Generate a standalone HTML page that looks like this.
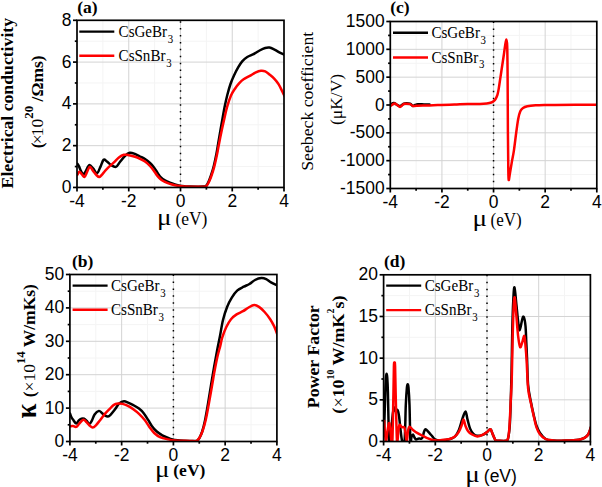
<!DOCTYPE html>
<html><head><meta charset="utf-8"><style>
html,body{margin:0;padding:0;background:#fff;width:602px;height:487px;overflow:hidden;}
</style></head><body>
<svg width="602" height="487" viewBox="0 0 602 487" style="position:absolute;left:0;top:0">
<rect width="602" height="487" fill="#fff"/>
<g stroke="#f4f4f4" stroke-width="1"><line x1="102.88" y1="20.3" x2="102.88" y2="187.45"/><line x1="154.62" y1="20.3" x2="154.62" y2="187.45"/><line x1="206.38" y1="20.3" x2="206.38" y2="187.45"/><line x1="258.12" y1="20.3" x2="258.12" y2="187.45"/><line x1="77.0" y1="166.56" x2="284.0" y2="166.56"/><line x1="77.0" y1="124.77" x2="284.0" y2="124.77"/><line x1="77.0" y1="82.98" x2="284.0" y2="82.98"/><line x1="77.0" y1="41.19" x2="284.0" y2="41.19"/></g>
<g stroke="#d3d3d3" stroke-width="1"><line x1="128.75" y1="20.3" x2="128.75" y2="187.45"/><line x1="180.50" y1="20.3" x2="180.50" y2="187.45"/><line x1="232.25" y1="20.3" x2="232.25" y2="187.45"/><line x1="77.0" y1="145.66" x2="284.0" y2="145.66"/><line x1="77.0" y1="103.88" x2="284.0" y2="103.88"/><line x1="77.0" y1="62.09" x2="284.0" y2="62.09"/></g>
<line x1="180.50" y1="21.150000000000002" x2="180.50" y2="187.45" stroke="#000" stroke-width="1.5" stroke-dasharray="1.5 5.42"/>
<defs><clipPath id="clipa"><rect x="77.0" y="18.3" width="207.0" height="169.14999999999998"/></clipPath></defs>
<g clip-path="url(#clipa)">
<path d="M77.50,163.80 C77.75,164.23 78.37,165.08 79.00,166.40 C79.63,167.72 80.53,170.38 81.30,171.70 C82.07,173.02 82.85,174.42 83.60,174.30 C84.35,174.18 85.10,172.22 85.80,171.00 C86.50,169.78 87.13,167.98 87.80,167.00 C88.47,166.02 88.92,164.87 89.80,165.10 C90.68,165.33 91.90,167.03 93.10,168.40 C94.30,169.77 95.80,173.52 97.00,173.30 C98.20,173.08 99.20,169.35 100.30,167.10 C101.40,164.85 102.50,160.73 103.60,159.80 C104.70,158.87 105.68,160.63 106.90,161.50 C108.12,162.37 109.40,164.10 110.90,165.00 C112.40,165.90 114.40,167.40 115.90,166.90 C117.40,166.40 118.40,163.82 119.90,162.00 C121.40,160.18 123.25,157.53 124.90,156.00 C126.55,154.47 128.12,153.13 129.80,152.80 C131.48,152.47 133.30,153.38 135.00,154.00 C136.70,154.62 138.33,155.67 140.00,156.50 C141.67,157.33 143.33,157.92 145.00,159.00 C146.67,160.08 148.50,161.60 150.00,163.00 C151.50,164.40 152.68,165.67 154.00,167.40 C155.32,169.13 156.75,171.73 157.90,173.40 C159.05,175.07 159.73,176.23 160.90,177.40 C162.07,178.57 163.40,179.52 164.90,180.40 C166.40,181.28 168.23,182.03 169.90,182.70 C171.57,183.37 173.23,183.90 174.90,184.40 C176.57,184.90 178.25,185.38 179.90,185.70 C181.55,186.02 183.12,186.15 184.80,186.30 C186.48,186.45 186.88,186.55 190.00,186.60 C193.12,186.65 200.83,186.70 203.50,186.60 C206.17,186.50 205.22,186.68 206.00,186.00 C206.78,185.32 207.40,184.17 208.20,182.50 C209.00,180.83 209.87,178.75 210.80,176.00 C211.73,173.25 212.85,169.75 213.80,166.00 C214.75,162.25 215.77,157.25 216.50,153.50 C217.23,149.75 217.53,147.42 218.20,143.50 C218.87,139.58 219.80,134.05 220.50,130.00 C221.20,125.95 221.72,123.05 222.40,119.20 C223.08,115.35 223.78,110.93 224.60,106.90 C225.42,102.87 226.32,98.82 227.30,95.00 C228.28,91.18 229.38,87.25 230.50,84.00 C231.62,80.75 232.70,78.30 234.00,75.50 C235.30,72.70 236.90,69.58 238.30,67.20 C239.70,64.82 240.90,62.90 242.40,61.20 C243.90,59.50 245.45,58.17 247.30,57.00 C249.15,55.83 251.45,55.28 253.50,54.20 C255.55,53.12 257.65,51.53 259.60,50.50 C261.55,49.47 263.55,48.48 265.20,48.00 C266.85,47.52 267.97,47.33 269.50,47.60 C271.03,47.87 272.77,48.82 274.40,49.60 C276.03,50.38 277.70,51.47 279.30,52.30 C280.90,53.13 283.22,54.22 284.00,54.60" fill="none" stroke="#000" stroke-width="2.5" stroke-linejoin="round" stroke-linecap="round"/>
<path d="M77.50,174.60 C77.80,174.12 78.57,171.75 79.30,171.70 C80.03,171.65 81.03,173.43 81.90,174.30 C82.77,175.17 83.62,177.33 84.50,176.90 C85.38,176.47 86.32,173.40 87.20,171.70 C88.08,170.00 88.82,166.82 89.80,166.70 C90.78,166.58 92.00,169.62 93.10,171.00 C94.20,172.38 95.37,174.00 96.40,175.00 C97.43,176.00 98.32,177.12 99.30,177.00 C100.28,176.88 101.27,175.40 102.30,174.30 C103.33,173.20 104.57,171.47 105.50,170.40 C106.43,169.33 106.50,169.23 107.90,167.90 C109.30,166.57 112.07,164.13 113.90,162.40 C115.73,160.67 117.23,158.77 118.90,157.50 C120.57,156.23 122.42,155.22 123.90,154.80 C125.38,154.38 125.95,154.67 127.80,155.00 C129.65,155.33 132.97,156.17 135.00,156.80 C137.03,157.43 138.33,158.02 140.00,158.80 C141.67,159.58 143.33,160.30 145.00,161.50 C146.67,162.70 148.50,164.43 150.00,166.00 C151.50,167.57 152.77,169.25 154.00,170.90 C155.23,172.55 156.25,174.48 157.40,175.90 C158.55,177.32 159.65,178.40 160.90,179.40 C162.15,180.40 163.40,181.15 164.90,181.90 C166.40,182.65 168.23,183.35 169.90,183.90 C171.57,184.45 173.23,184.83 174.90,185.20 C176.57,185.57 178.25,185.88 179.90,186.10 C181.55,186.32 183.12,186.40 184.80,186.50 C186.48,186.60 186.80,186.67 190.00,186.70 C193.20,186.73 201.30,186.78 204.00,186.70 C206.70,186.62 205.47,186.82 206.20,186.20 C206.93,185.58 207.58,184.57 208.40,183.00 C209.22,181.43 210.13,179.48 211.10,176.80 C212.07,174.12 213.22,170.60 214.20,166.90 C215.18,163.20 216.25,158.18 217.00,154.60 C217.75,151.02 217.90,149.50 218.70,145.40 C219.50,141.30 220.88,134.37 221.80,130.00 C222.72,125.63 223.32,123.05 224.20,119.20 C225.08,115.35 225.97,110.85 227.10,106.90 C228.23,102.95 229.68,98.53 231.00,95.50 C232.32,92.47 233.62,90.75 235.00,88.70 C236.38,86.65 237.87,84.77 239.30,83.20 C240.73,81.63 241.85,80.52 243.60,79.30 C245.35,78.08 247.75,77.07 249.80,75.90 C251.85,74.73 254.05,73.15 255.90,72.30 C257.75,71.45 259.35,70.95 260.90,70.80 C262.45,70.65 263.77,70.78 265.20,71.40 C266.63,72.02 267.97,73.27 269.50,74.50 C271.03,75.73 272.87,77.17 274.40,78.80 C275.93,80.43 277.37,82.15 278.70,84.30 C280.03,86.45 281.43,89.75 282.40,91.70 C283.37,93.65 284.15,95.28 284.50,96.00" fill="none" stroke="#f00" stroke-width="2.5" stroke-linejoin="round" stroke-linecap="round"/>
</g>
<g stroke="#000" stroke-width="1.7"><line x1="77.00" y1="187.45" x2="77.00" y2="191.45"/><line x1="102.88" y1="187.45" x2="102.88" y2="189.64999999999998"/><line x1="128.75" y1="187.45" x2="128.75" y2="191.45"/><line x1="154.62" y1="187.45" x2="154.62" y2="189.64999999999998"/><line x1="180.50" y1="187.45" x2="180.50" y2="191.45"/><line x1="206.38" y1="187.45" x2="206.38" y2="189.64999999999998"/><line x1="232.25" y1="187.45" x2="232.25" y2="191.45"/><line x1="258.12" y1="187.45" x2="258.12" y2="189.64999999999998"/><line x1="284.00" y1="187.45" x2="284.00" y2="191.45"/><line x1="73.0" y1="187.45" x2="77.0" y2="187.45"/><line x1="74.8" y1="166.56" x2="77.0" y2="166.56"/><line x1="73.0" y1="145.66" x2="77.0" y2="145.66"/><line x1="74.8" y1="124.77" x2="77.0" y2="124.77"/><line x1="73.0" y1="103.88" x2="77.0" y2="103.88"/><line x1="74.8" y1="82.98" x2="77.0" y2="82.98"/><line x1="73.0" y1="62.09" x2="77.0" y2="62.09"/><line x1="74.8" y1="41.19" x2="77.0" y2="41.19"/><line x1="73.0" y1="20.30" x2="77.0" y2="20.30"/></g>
<rect x="77.0" y="20.3" width="207.0" height="167.14999999999998" fill="none" stroke="#000" stroke-width="1.7"/>
<g font-family="'Liberation Sans', sans-serif" font-size="16.8" fill="#000"><text transform="translate(77.00,207.04999999999998) scale(1.04,1.05)" text-anchor="middle">-4</text><text transform="translate(128.75,207.04999999999998) scale(1.04,1.05)" text-anchor="middle">-2</text><text transform="translate(180.50,207.04999999999998) scale(1.04,1.05)" text-anchor="middle">0</text><text transform="translate(232.25,207.04999999999998) scale(1.04,1.05)" text-anchor="middle">2</text><text transform="translate(284.00,207.04999999999998) scale(1.04,1.05)" text-anchor="middle">4</text><text transform="translate(71.40,192.95) scale(1.04,1.05)" text-anchor="end">0</text><text transform="translate(71.40,151.16) scale(1.04,1.05)" text-anchor="end">2</text><text transform="translate(71.40,109.38) scale(1.04,1.05)" text-anchor="end">4</text><text transform="translate(71.40,67.59) scale(1.04,1.05)" text-anchor="end">6</text><text transform="translate(71.40,25.80) scale(1.04,1.05)" text-anchor="end">8</text></g>
<g stroke="#f4f4f4" stroke-width="1"><line x1="416.11" y1="21.5" x2="416.11" y2="188.5"/><line x1="467.74" y1="21.5" x2="467.74" y2="188.5"/><line x1="519.36" y1="21.5" x2="519.36" y2="188.5"/><line x1="570.99" y1="21.5" x2="570.99" y2="188.5"/><line x1="390.3" y1="174.58" x2="596.8" y2="174.58"/><line x1="390.3" y1="146.75" x2="596.8" y2="146.75"/><line x1="390.3" y1="118.92" x2="596.8" y2="118.92"/><line x1="390.3" y1="91.08" x2="596.8" y2="91.08"/><line x1="390.3" y1="63.25" x2="596.8" y2="63.25"/><line x1="390.3" y1="35.42" x2="596.8" y2="35.42"/></g>
<g stroke="#d3d3d3" stroke-width="1"><line x1="441.93" y1="21.5" x2="441.93" y2="188.5"/><line x1="493.55" y1="21.5" x2="493.55" y2="188.5"/><line x1="545.17" y1="21.5" x2="545.17" y2="188.5"/><line x1="390.3" y1="160.67" x2="596.8" y2="160.67"/><line x1="390.3" y1="132.83" x2="596.8" y2="132.83"/><line x1="390.3" y1="105.00" x2="596.8" y2="105.00"/><line x1="390.3" y1="77.17" x2="596.8" y2="77.17"/><line x1="390.3" y1="49.33" x2="596.8" y2="49.33"/></g>
<line x1="493.55" y1="21.55" x2="493.55" y2="188.5" stroke="#000" stroke-width="1.5" stroke-dasharray="1.5 5.42"/>
<defs><clipPath id="clipc"><rect x="390.3" y="19.5" width="206.49999999999994" height="169.0"/></clipPath></defs>
<g clip-path="url(#clipc)">
<path d="M390.70,104.30 C391.22,104.08 392.75,102.92 393.80,103.00 C394.85,103.08 395.97,104.27 397.00,104.80 C398.03,105.33 399.08,106.25 400.00,106.20 C400.92,106.15 401.70,104.97 402.50,104.50 C403.30,104.03 403.55,103.52 404.80,103.40 C406.05,103.28 408.65,103.37 410.00,103.80 C411.35,104.23 412.07,105.80 412.90,106.00 C413.73,106.20 414.17,105.28 415.00,105.00 C415.83,104.72 416.40,104.40 417.90,104.30 C419.40,104.20 422.07,104.37 424.00,104.40 C425.93,104.43 428.58,104.48 429.50,104.50" fill="none" stroke="#000" stroke-width="2.5" stroke-linejoin="round" stroke-linecap="round"/>
<path d="M390.70,105.80 C391.32,105.42 393.30,103.63 394.40,103.50 C395.50,103.37 396.37,104.43 397.30,105.00 C398.23,105.57 399.13,106.90 400.00,106.90 C400.87,106.90 401.70,105.52 402.50,105.00 C403.30,104.48 403.55,103.95 404.80,103.80 C406.05,103.65 408.65,103.73 410.00,104.10 C411.35,104.47 411.87,105.72 412.90,106.00 C413.93,106.28 414.53,105.88 416.20,105.80 C417.87,105.72 420.68,105.57 422.90,105.50 C425.12,105.43 427.02,105.47 429.50,105.40 C431.98,105.33 435.85,105.18 437.80,105.10 C439.75,105.02 438.43,105.00 441.20,104.90 C443.97,104.80 449.98,104.65 454.40,104.50 C458.82,104.35 463.43,104.10 467.70,104.00 C471.97,103.90 476.82,104.00 480.00,103.90 C483.18,103.80 484.92,103.63 486.80,103.40 C488.68,103.17 490.08,102.93 491.30,102.50 C492.52,102.07 493.35,101.45 494.10,100.80 C494.85,100.15 495.23,99.63 495.80,98.60 C496.37,97.57 497.02,96.22 497.50,94.60 C497.98,92.98 498.22,91.73 498.70,88.90 C499.18,86.07 499.83,81.37 500.40,77.60 C500.97,73.83 501.53,70.07 502.10,66.30 C502.67,62.53 503.30,58.42 503.80,55.00 C504.30,51.58 504.68,48.37 505.10,45.80 C505.52,43.23 505.95,39.57 506.30,39.60 C506.65,39.63 506.98,40.03 507.20,46.00 C507.42,51.97 507.48,61.08 507.60,75.40 C507.72,89.72 507.78,116.33 507.90,131.90 C508.02,147.47 508.17,160.78 508.30,168.80 C508.43,176.82 508.42,179.30 508.70,180.00 C508.98,180.70 509.45,176.17 510.00,173.00 C510.55,169.83 511.35,164.73 512.00,161.00 C512.65,157.27 513.18,155.43 513.90,150.60 C514.62,145.77 515.57,137.35 516.30,132.00 C517.03,126.65 517.63,121.97 518.30,118.50 C518.97,115.03 519.52,112.95 520.30,111.20 C521.08,109.45 521.83,108.82 523.00,108.00 C524.17,107.18 525.20,106.74 527.30,106.30 C529.40,105.86 532.37,105.57 535.60,105.35 C538.83,105.13 543.47,105.08 546.70,105.00 C549.93,104.92 546.62,104.93 555.00,104.90 C563.38,104.88 590.00,104.86 597.00,104.85" fill="none" stroke="#f00" stroke-width="2.5" stroke-linejoin="round" stroke-linecap="round"/>
</g>
<g stroke="#000" stroke-width="1.7"><line x1="390.30" y1="188.5" x2="390.30" y2="192.5"/><line x1="416.11" y1="188.5" x2="416.11" y2="190.7"/><line x1="441.93" y1="188.5" x2="441.93" y2="192.5"/><line x1="467.74" y1="188.5" x2="467.74" y2="190.7"/><line x1="493.55" y1="188.5" x2="493.55" y2="192.5"/><line x1="519.36" y1="188.5" x2="519.36" y2="190.7"/><line x1="545.17" y1="188.5" x2="545.17" y2="192.5"/><line x1="570.99" y1="188.5" x2="570.99" y2="190.7"/><line x1="596.80" y1="188.5" x2="596.80" y2="192.5"/><line x1="386.3" y1="188.50" x2="390.3" y2="188.50"/><line x1="388.1" y1="174.58" x2="390.3" y2="174.58"/><line x1="386.3" y1="160.67" x2="390.3" y2="160.67"/><line x1="388.1" y1="146.75" x2="390.3" y2="146.75"/><line x1="386.3" y1="132.83" x2="390.3" y2="132.83"/><line x1="388.1" y1="118.92" x2="390.3" y2="118.92"/><line x1="386.3" y1="105.00" x2="390.3" y2="105.00"/><line x1="388.1" y1="91.08" x2="390.3" y2="91.08"/><line x1="386.3" y1="77.17" x2="390.3" y2="77.17"/><line x1="388.1" y1="63.25" x2="390.3" y2="63.25"/><line x1="386.3" y1="49.33" x2="390.3" y2="49.33"/><line x1="388.1" y1="35.42" x2="390.3" y2="35.42"/><line x1="386.3" y1="21.50" x2="390.3" y2="21.50"/></g>
<rect x="390.3" y="21.5" width="206.49999999999994" height="167.0" fill="none" stroke="#000" stroke-width="1.7"/>
<g font-family="'Liberation Sans', sans-serif" font-size="16.8" fill="#000"><text transform="translate(390.30,208.1) scale(1.04,1.05)" text-anchor="middle">-4</text><text transform="translate(441.93,208.1) scale(1.04,1.05)" text-anchor="middle">-2</text><text transform="translate(493.55,208.1) scale(1.04,1.05)" text-anchor="middle">0</text><text transform="translate(545.17,208.1) scale(1.04,1.05)" text-anchor="middle">2</text><text transform="translate(596.80,208.1) scale(1.04,1.05)" text-anchor="middle">4</text><text transform="translate(384.70,194.00) scale(1.04,1.05)" text-anchor="end">-1500</text><text transform="translate(384.70,166.17) scale(1.04,1.05)" text-anchor="end">-1000</text><text transform="translate(384.70,138.33) scale(1.04,1.05)" text-anchor="end">-500</text><text transform="translate(384.70,110.50) scale(1.04,1.05)" text-anchor="end">0</text><text transform="translate(384.70,82.67) scale(1.04,1.05)" text-anchor="end">500</text><text transform="translate(384.70,54.83) scale(1.04,1.05)" text-anchor="end">1000</text><text transform="translate(384.70,27.00) scale(1.04,1.05)" text-anchor="end">1500</text></g>
<g stroke="#f4f4f4" stroke-width="1"><line x1="95.78" y1="274.5" x2="95.78" y2="441.5"/><line x1="147.52" y1="274.5" x2="147.52" y2="441.5"/><line x1="199.27" y1="274.5" x2="199.27" y2="441.5"/><line x1="251.02" y1="274.5" x2="251.02" y2="441.5"/><line x1="69.9" y1="424.80" x2="276.9" y2="424.80"/><line x1="69.9" y1="391.40" x2="276.9" y2="391.40"/><line x1="69.9" y1="358.00" x2="276.9" y2="358.00"/><line x1="69.9" y1="324.60" x2="276.9" y2="324.60"/><line x1="69.9" y1="291.20" x2="276.9" y2="291.20"/></g>
<g stroke="#d3d3d3" stroke-width="1"><line x1="121.65" y1="274.5" x2="121.65" y2="441.5"/><line x1="173.40" y1="274.5" x2="173.40" y2="441.5"/><line x1="225.15" y1="274.5" x2="225.15" y2="441.5"/><line x1="69.9" y1="408.10" x2="276.9" y2="408.10"/><line x1="69.9" y1="374.70" x2="276.9" y2="374.70"/><line x1="69.9" y1="341.30" x2="276.9" y2="341.30"/><line x1="69.9" y1="307.90" x2="276.9" y2="307.90"/></g>
<line x1="173.40" y1="274.55" x2="173.40" y2="441.5" stroke="#000" stroke-width="1.5" stroke-dasharray="1.5 5.42"/>
<defs><clipPath id="clipb"><rect x="69.9" y="272.5" width="206.99999999999997" height="169.0"/></clipPath></defs>
<g clip-path="url(#clipb)">
<path d="M70.00,413.50 C70.27,414.17 71.00,416.35 71.60,417.50 C72.20,418.65 72.83,419.38 73.60,420.40 C74.37,421.42 75.33,423.60 76.20,423.60 C77.07,423.60 77.92,421.22 78.80,420.40 C79.68,419.58 80.62,418.98 81.50,418.70 C82.38,418.42 83.23,418.32 84.10,418.70 C84.97,419.08 85.82,420.12 86.70,421.00 C87.58,421.88 88.52,424.10 89.40,424.00 C90.28,423.90 91.13,422.00 92.00,420.40 C92.87,418.80 93.45,415.98 94.60,414.40 C95.75,412.82 97.68,411.15 98.90,410.90 C100.12,410.65 100.90,412.15 101.90,412.90 C102.90,413.65 103.90,414.82 104.90,415.40 C105.90,415.98 106.97,416.50 107.90,416.40 C108.83,416.30 109.37,415.90 110.50,414.80 C111.63,413.70 113.23,411.70 114.70,409.80 C116.17,407.90 117.75,404.82 119.30,403.40 C120.85,401.98 122.45,401.40 124.00,401.30 C125.55,401.20 127.05,402.17 128.60,402.80 C130.15,403.43 131.57,404.13 133.30,405.10 C135.03,406.07 137.27,407.25 139.00,408.60 C140.73,409.95 142.15,411.27 143.70,413.20 C145.25,415.13 146.95,418.07 148.30,420.20 C149.65,422.33 150.43,424.15 151.80,426.00 C153.17,427.85 154.75,429.75 156.50,431.30 C158.25,432.85 159.97,434.05 162.30,435.30 C164.63,436.55 168.38,438.02 170.50,438.80 C172.62,439.58 173.42,439.70 175.00,440.00 C176.58,440.30 177.50,440.45 180.00,440.60 C182.50,440.75 187.20,440.85 190.00,440.90 C192.80,440.95 195.22,441.42 196.80,440.90 C198.38,440.38 198.60,439.37 199.50,437.80 C200.40,436.23 201.28,434.38 202.20,431.50 C203.12,428.62 204.07,424.92 205.00,420.50 C205.93,416.08 206.82,410.75 207.80,405.00 C208.78,399.25 209.85,392.33 210.90,386.00 C211.95,379.67 213.05,373.00 214.10,367.00 C215.15,361.00 216.23,355.08 217.20,350.00 C218.17,344.92 218.93,341.50 219.90,336.50 C220.87,331.50 221.82,324.88 223.00,320.00 C224.18,315.12 225.53,310.93 227.00,307.20 C228.47,303.47 230.07,300.40 231.80,297.60 C233.53,294.80 235.40,292.22 237.40,290.40 C239.40,288.58 241.80,287.77 243.80,286.70 C245.80,285.63 247.53,285.12 249.40,284.00 C251.27,282.88 253.00,280.98 255.00,280.00 C257.00,279.02 259.53,278.23 261.40,278.10 C263.27,277.97 264.60,278.48 266.20,279.20 C267.80,279.92 269.12,281.35 271.00,282.40 C272.88,283.45 276.42,284.98 277.50,285.50" fill="none" stroke="#000" stroke-width="2.5" stroke-linejoin="round" stroke-linecap="round"/>
<path d="M70.00,426.30 C70.48,426.23 71.87,425.80 72.90,425.90 C73.93,426.00 75.10,427.33 76.20,426.90 C77.30,426.47 78.30,424.50 79.50,423.30 C80.70,422.10 82.20,419.87 83.40,419.70 C84.60,419.53 85.60,421.27 86.70,422.30 C87.80,423.33 89.02,425.02 90.00,425.90 C90.98,426.78 91.62,427.70 92.60,427.60 C93.58,427.50 94.68,426.50 95.90,425.30 C97.12,424.10 98.40,422.30 99.90,420.40 C101.40,418.50 103.22,415.87 104.90,413.90 C106.58,411.93 108.57,410.07 110.00,408.60 C111.43,407.13 112.15,405.93 113.50,405.10 C114.85,404.27 116.60,403.80 118.10,403.60 C119.60,403.40 120.95,403.57 122.50,403.90 C124.05,404.23 125.60,404.72 127.40,405.60 C129.20,406.48 131.37,407.83 133.30,409.20 C135.23,410.57 137.07,411.97 139.00,413.80 C140.93,415.63 143.15,417.97 144.90,420.20 C146.65,422.43 147.95,425.07 149.50,427.20 C151.05,429.33 152.45,431.35 154.20,433.00 C155.95,434.65 157.68,436.03 160.00,437.10 C162.32,438.17 165.60,438.82 168.10,439.40 C170.60,439.98 173.02,440.37 175.00,440.60 C176.98,440.83 177.50,440.75 180.00,440.80 C182.50,440.85 187.25,440.88 190.00,440.90 C192.75,440.92 194.88,441.50 196.50,440.90 C198.12,440.30 198.67,439.00 199.70,437.30 C200.73,435.60 201.70,433.58 202.70,430.70 C203.70,427.82 204.77,424.00 205.70,420.00 C206.63,416.00 207.47,411.15 208.30,406.70 C209.13,402.25 209.92,397.75 210.70,393.30 C211.48,388.85 212.40,383.50 213.00,380.00 C213.60,376.50 213.58,376.10 214.30,372.30 C215.02,368.50 216.28,361.68 217.30,357.20 C218.32,352.72 219.58,348.67 220.40,345.40 C221.22,342.13 221.23,340.63 222.20,337.60 C223.17,334.57 224.73,330.27 226.20,327.20 C227.67,324.13 229.27,321.33 231.00,319.20 C232.73,317.07 234.60,315.73 236.60,314.40 C238.60,313.07 241.00,312.35 243.00,311.20 C245.00,310.05 246.73,308.52 248.60,307.50 C250.47,306.48 252.47,305.20 254.20,305.10 C255.93,305.00 257.27,305.75 259.00,306.90 C260.73,308.05 262.73,309.95 264.60,312.00 C266.47,314.05 268.60,316.80 270.20,319.20 C271.80,321.60 272.98,323.77 274.20,326.40 C275.42,329.03 276.95,333.57 277.50,335.00" fill="none" stroke="#f00" stroke-width="2.5" stroke-linejoin="round" stroke-linecap="round"/>
</g>
<g stroke="#000" stroke-width="1.7"><line x1="69.90" y1="441.5" x2="69.90" y2="445.5"/><line x1="95.78" y1="441.5" x2="95.78" y2="443.7"/><line x1="121.65" y1="441.5" x2="121.65" y2="445.5"/><line x1="147.52" y1="441.5" x2="147.52" y2="443.7"/><line x1="173.40" y1="441.5" x2="173.40" y2="445.5"/><line x1="199.27" y1="441.5" x2="199.27" y2="443.7"/><line x1="225.15" y1="441.5" x2="225.15" y2="445.5"/><line x1="251.02" y1="441.5" x2="251.02" y2="443.7"/><line x1="276.90" y1="441.5" x2="276.90" y2="445.5"/><line x1="65.9" y1="441.50" x2="69.9" y2="441.50"/><line x1="67.7" y1="424.80" x2="69.9" y2="424.80"/><line x1="65.9" y1="408.10" x2="69.9" y2="408.10"/><line x1="67.7" y1="391.40" x2="69.9" y2="391.40"/><line x1="65.9" y1="374.70" x2="69.9" y2="374.70"/><line x1="67.7" y1="358.00" x2="69.9" y2="358.00"/><line x1="65.9" y1="341.30" x2="69.9" y2="341.30"/><line x1="67.7" y1="324.60" x2="69.9" y2="324.60"/><line x1="65.9" y1="307.90" x2="69.9" y2="307.90"/><line x1="67.7" y1="291.20" x2="69.9" y2="291.20"/><line x1="65.9" y1="274.50" x2="69.9" y2="274.50"/></g>
<rect x="69.9" y="274.5" width="206.99999999999997" height="167.0" fill="none" stroke="#000" stroke-width="1.7"/>
<g font-family="'Liberation Sans', sans-serif" font-size="16.8" fill="#000"><text transform="translate(69.90,461.1) scale(1.04,1.05)" text-anchor="middle">-4</text><text transform="translate(121.65,461.1) scale(1.04,1.05)" text-anchor="middle">-2</text><text transform="translate(173.40,461.1) scale(1.04,1.05)" text-anchor="middle">0</text><text transform="translate(225.15,461.1) scale(1.04,1.05)" text-anchor="middle">2</text><text transform="translate(276.90,461.1) scale(1.04,1.05)" text-anchor="middle">4</text><text transform="translate(64.30,447.00) scale(1.04,1.05)" text-anchor="end">0</text><text transform="translate(64.30,413.60) scale(1.04,1.05)" text-anchor="end">10</text><text transform="translate(64.30,380.20) scale(1.04,1.05)" text-anchor="end">20</text><text transform="translate(64.30,346.80) scale(1.04,1.05)" text-anchor="end">30</text><text transform="translate(64.30,313.40) scale(1.04,1.05)" text-anchor="end">40</text><text transform="translate(64.30,280.00) scale(1.04,1.05)" text-anchor="end">50</text></g>
<g stroke="#f4f4f4" stroke-width="1"><line x1="409.45" y1="274.8" x2="409.45" y2="441.5"/><line x1="461.15" y1="274.8" x2="461.15" y2="441.5"/><line x1="512.85" y1="274.8" x2="512.85" y2="441.5"/><line x1="564.55" y1="274.8" x2="564.55" y2="441.5"/><line x1="383.6" y1="420.66" x2="590.4" y2="420.66"/><line x1="383.6" y1="378.99" x2="590.4" y2="378.99"/><line x1="383.6" y1="337.31" x2="590.4" y2="337.31"/><line x1="383.6" y1="295.64" x2="590.4" y2="295.64"/></g>
<g stroke="#d3d3d3" stroke-width="1"><line x1="435.30" y1="274.8" x2="435.30" y2="441.5"/><line x1="487.00" y1="274.8" x2="487.00" y2="441.5"/><line x1="538.70" y1="274.8" x2="538.70" y2="441.5"/><line x1="383.6" y1="399.82" x2="590.4" y2="399.82"/><line x1="383.6" y1="358.15" x2="590.4" y2="358.15"/><line x1="383.6" y1="316.48" x2="590.4" y2="316.48"/></g>
<line x1="487.00" y1="274.85" x2="487.00" y2="441.5" stroke="#000" stroke-width="1.5" stroke-dasharray="1.5 5.42"/>
<defs><clipPath id="clipd"><rect x="383.6" y="272.8" width="206.79999999999995" height="168.7"/></clipPath></defs>
<g clip-path="url(#clipd)">
<path d="M384.20,428.00 C384.38,422.00 385.00,400.50 385.30,392.00 C385.60,383.50 385.78,380.03 386.00,377.00 C386.22,373.97 386.40,373.80 386.60,373.80 C386.80,373.80 386.98,373.97 387.20,377.00 C387.42,380.03 387.63,382.33 387.90,392.00 C388.17,401.67 388.53,426.83 388.80,435.00 C389.07,443.17 389.13,441.50 389.50,441.00 C389.87,440.50 390.45,436.50 391.00,432.00 C391.55,427.50 392.25,418.08 392.80,414.00 C393.35,409.92 393.80,407.92 394.30,407.50 C394.80,407.08 395.27,411.08 395.80,411.50 C396.33,411.92 396.97,409.25 397.50,410.00 C398.03,410.75 398.45,412.33 399.00,416.00 C399.55,419.67 400.27,427.83 400.80,432.00 C401.33,436.17 401.57,439.50 402.20,441.00 C402.83,442.50 404.00,447.00 404.60,441.00 C405.20,435.00 405.42,413.92 405.80,405.00 C406.18,396.08 406.58,390.95 406.90,387.50 C407.22,384.05 407.43,384.30 407.70,384.30 C407.97,384.30 408.20,384.05 408.50,387.50 C408.80,390.95 409.18,396.08 409.50,405.00 C409.82,413.92 410.07,435.67 410.40,441.00 C410.73,446.33 411.07,438.10 411.50,437.00 C411.93,435.90 412.50,434.32 413.00,434.40 C413.50,434.48 414.00,436.67 414.50,437.50 C415.00,438.33 415.25,439.25 416.00,439.40 C416.75,439.55 418.13,438.50 419.00,438.40 C419.87,438.30 420.57,439.03 421.20,438.80 C421.83,438.57 422.37,438.05 422.80,437.00 C423.23,435.95 423.40,433.75 423.80,432.50 C424.20,431.25 424.75,429.93 425.20,429.50 C425.65,429.07 425.78,429.28 426.50,429.90 C427.22,430.52 428.50,432.08 429.50,433.20 C430.50,434.32 431.58,435.58 432.50,436.60 C433.42,437.62 433.75,438.65 435.00,439.30 C436.25,439.95 438.33,440.38 440.00,440.50 C441.67,440.62 443.33,440.25 445.00,440.00 C446.67,439.75 448.33,439.58 450.00,439.00 C451.67,438.42 453.52,438.02 455.00,436.50 C456.48,434.98 457.70,432.75 458.90,429.90 C460.10,427.05 461.10,422.47 462.20,419.40 C463.30,416.33 464.62,411.50 465.50,411.50 C466.38,411.50 466.73,416.55 467.50,419.40 C468.27,422.25 469.12,426.20 470.10,428.60 C471.08,431.00 472.20,432.60 473.40,433.80 C474.60,435.00 475.77,435.62 477.30,435.80 C478.83,435.98 480.95,435.55 482.60,434.90 C484.25,434.25 485.90,432.85 487.20,431.90 C488.50,430.95 489.42,428.67 490.40,429.20 C491.38,429.73 492.22,433.23 493.10,435.10 C493.98,436.97 494.83,439.47 495.70,440.40 C496.57,441.33 496.55,440.65 498.30,440.70 C500.05,440.75 504.55,441.18 506.20,440.70 C507.85,440.22 507.60,440.42 508.20,437.80 C508.80,435.18 509.37,431.30 509.80,425.00 C510.23,418.70 510.50,409.17 510.80,400.00 C511.10,390.83 511.35,381.83 511.60,370.00 C511.85,358.17 512.02,340.67 512.30,329.00 C512.58,317.33 512.93,306.93 513.30,300.00 C513.67,293.07 513.98,286.62 514.50,287.40 C515.02,288.18 515.80,299.08 516.40,304.70 C517.00,310.32 517.55,316.85 518.10,321.10 C518.65,325.35 519.02,330.47 519.70,330.20 C520.38,329.93 521.52,321.70 522.20,319.50 C522.88,317.30 523.25,315.92 523.80,317.00 C524.35,318.08 525.08,321.75 525.50,326.00 C525.92,330.25 526.03,336.83 526.30,342.50 C526.57,348.17 526.80,352.92 527.10,360.00 C527.40,367.08 527.47,378.00 528.10,385.00 C528.73,392.00 529.97,397.00 530.90,402.00 C531.83,407.00 532.78,411.08 533.70,415.00 C534.62,418.92 535.35,422.50 536.40,425.50 C537.45,428.50 538.45,430.75 540.00,433.00 C541.55,435.25 543.52,437.77 545.70,439.00 C547.88,440.23 549.72,440.13 553.10,440.40 C556.48,440.67 561.70,440.72 566.00,440.60 C570.30,440.48 575.82,440.17 578.90,439.70 C581.98,439.23 582.95,438.67 584.50,437.80 C586.05,436.93 587.12,436.30 588.20,434.50 C589.28,432.70 590.53,428.25 591.00,427.00" fill="none" stroke="#000" stroke-width="2.5" stroke-linejoin="round" stroke-linecap="round"/>
<path d="M384.20,421.00 C384.47,424.33 385.25,439.33 385.80,441.00 C386.35,442.67 386.97,434.00 387.50,431.00 C388.03,428.00 388.55,423.50 389.00,423.00 C389.45,422.50 389.80,425.00 390.20,428.00 C390.60,431.00 391.03,438.83 391.40,441.00 C391.77,443.17 392.07,448.67 392.40,441.00 C392.73,433.33 393.15,407.42 393.40,395.00 C393.65,382.58 393.72,371.88 393.90,366.50 C394.08,361.12 394.30,362.70 394.50,362.70 C394.70,362.70 394.90,361.12 395.10,366.50 C395.30,371.88 395.42,383.08 395.70,395.00 C395.98,406.92 396.50,430.33 396.80,438.00 C397.10,445.67 397.25,442.00 397.50,441.00 C397.75,440.00 397.97,434.67 398.30,432.00 C398.63,429.33 398.92,425.80 399.50,425.00 C400.08,424.20 400.95,426.67 401.80,427.20 C402.65,427.73 403.78,425.90 404.60,428.20 C405.42,430.50 406.13,440.53 406.70,441.00 C407.27,441.47 407.53,433.38 408.00,431.00 C408.47,428.62 408.67,426.88 409.50,426.70 C410.33,426.52 411.58,428.78 413.00,429.90 C414.42,431.02 416.33,432.40 418.00,433.40 C419.67,434.40 421.33,435.07 423.00,435.90 C424.67,436.73 426.35,437.70 428.00,438.40 C429.65,439.10 431.25,439.77 432.90,440.10 C434.55,440.43 435.90,440.47 437.90,440.40 C439.90,440.33 442.90,439.93 444.90,439.70 C446.90,439.47 448.23,439.55 449.90,439.00 C451.57,438.45 453.42,437.58 454.90,436.40 C456.38,435.22 457.65,433.82 458.80,431.90 C459.95,429.98 461.00,426.98 461.80,424.90 C462.60,422.82 462.98,419.22 463.60,419.40 C464.22,419.58 464.75,424.03 465.50,426.00 C466.25,427.97 467.00,429.78 468.10,431.20 C469.20,432.62 470.57,433.62 472.10,434.50 C473.63,435.38 475.55,436.43 477.30,436.50 C479.05,436.57 480.95,435.67 482.60,434.90 C484.25,434.13 485.90,432.85 487.20,431.90 C488.50,430.95 489.42,428.67 490.40,429.20 C491.38,429.73 492.22,433.23 493.10,435.10 C493.98,436.97 494.83,439.47 495.70,440.40 C496.57,441.33 496.55,440.65 498.30,440.70 C500.05,440.75 504.55,441.18 506.20,440.70 C507.85,440.22 507.65,440.25 508.20,437.80 C508.75,435.35 509.07,432.35 509.50,426.00 C509.93,419.65 510.43,407.37 510.80,399.70 C511.17,392.03 511.40,389.95 511.70,380.00 C512.00,370.05 512.30,351.67 512.60,340.00 C512.90,328.33 513.18,317.12 513.50,310.00 C513.82,302.88 514.17,298.13 514.50,297.30 C514.83,296.47 515.18,301.85 515.50,305.00 C515.82,308.15 515.97,311.05 516.40,316.20 C516.83,321.35 517.48,330.75 518.10,335.90 C518.72,341.05 519.42,346.00 520.10,347.10 C520.78,348.20 521.50,344.37 522.20,342.50 C522.90,340.63 523.75,335.35 524.30,335.90 C524.85,336.45 525.12,341.78 525.50,345.80 C525.88,349.82 526.17,352.92 526.60,360.00 C527.03,367.08 527.38,381.12 528.10,388.30 C528.82,395.48 529.97,398.48 530.90,403.10 C531.83,407.72 532.78,412.00 533.70,416.00 C534.62,420.00 535.33,424.02 536.40,427.10 C537.47,430.18 538.55,432.50 540.10,434.50 C541.65,436.50 543.53,438.12 545.70,439.10 C547.87,440.08 549.72,440.15 553.10,440.40 C556.48,440.65 561.70,440.72 566.00,440.60 C570.30,440.48 575.82,440.17 578.90,439.70 C581.98,439.23 582.95,438.67 584.50,437.80 C586.05,436.93 587.12,436.30 588.20,434.50 C589.28,432.70 590.53,428.25 591.00,427.00" fill="none" stroke="#f00" stroke-width="2.5" stroke-linejoin="round" stroke-linecap="round"/>
</g>
<g stroke="#000" stroke-width="1.7"><line x1="383.60" y1="441.5" x2="383.60" y2="445.5"/><line x1="409.45" y1="441.5" x2="409.45" y2="443.7"/><line x1="435.30" y1="441.5" x2="435.30" y2="445.5"/><line x1="461.15" y1="441.5" x2="461.15" y2="443.7"/><line x1="487.00" y1="441.5" x2="487.00" y2="445.5"/><line x1="512.85" y1="441.5" x2="512.85" y2="443.7"/><line x1="538.70" y1="441.5" x2="538.70" y2="445.5"/><line x1="564.55" y1="441.5" x2="564.55" y2="443.7"/><line x1="590.40" y1="441.5" x2="590.40" y2="445.5"/><line x1="379.6" y1="441.50" x2="383.6" y2="441.50"/><line x1="381.40000000000003" y1="420.66" x2="383.6" y2="420.66"/><line x1="379.6" y1="399.82" x2="383.6" y2="399.82"/><line x1="381.40000000000003" y1="378.99" x2="383.6" y2="378.99"/><line x1="379.6" y1="358.15" x2="383.6" y2="358.15"/><line x1="381.40000000000003" y1="337.31" x2="383.6" y2="337.31"/><line x1="379.6" y1="316.48" x2="383.6" y2="316.48"/><line x1="381.40000000000003" y1="295.64" x2="383.6" y2="295.64"/><line x1="379.6" y1="274.80" x2="383.6" y2="274.80"/></g>
<rect x="383.6" y="274.8" width="206.79999999999995" height="166.7" fill="none" stroke="#000" stroke-width="1.7"/>
<g font-family="'Liberation Sans', sans-serif" font-size="16.8" fill="#000"><text transform="translate(383.60,461.1) scale(1.04,1.05)" text-anchor="middle">-4</text><text transform="translate(435.30,461.1) scale(1.04,1.05)" text-anchor="middle">-2</text><text transform="translate(487.00,461.1) scale(1.04,1.05)" text-anchor="middle">0</text><text transform="translate(538.70,461.1) scale(1.04,1.05)" text-anchor="middle">2</text><text transform="translate(590.40,461.1) scale(1.04,1.05)" text-anchor="middle">4</text><text transform="translate(378.00,447.00) scale(1.04,1.05)" text-anchor="end">0</text><text transform="translate(378.00,405.32) scale(1.04,1.05)" text-anchor="end">5</text><text transform="translate(378.00,363.65) scale(1.04,1.05)" text-anchor="end">10</text><text transform="translate(378.00,321.98) scale(1.04,1.05)" text-anchor="end">15</text><text transform="translate(378.00,280.30) scale(1.04,1.05)" text-anchor="end">20</text></g>
<line x1="79.3" y1="31.6" x2="114.3" y2="31.6" stroke="#000" stroke-width="2.4"/>
<line x1="79.3" y1="55.7" x2="114.3" y2="55.7" stroke="#f00" stroke-width="2.4"/>
<text transform="translate(118.6,36.7) scale(0.985,1.07)" font-family="'Liberation Serif', serif" font-size="15.3">CsGeBr<tspan font-size="11" dx="0.7" dy="5.6">3</tspan></text>
<text transform="translate(118.6,61.0) scale(0.985,1.07)" font-family="'Liberation Serif', serif" font-size="15.3">CsSnBr<tspan font-size="11" dx="0.7" dy="5.6">3</tspan></text>
<line x1="393.0" y1="32.8" x2="428.0" y2="32.8" stroke="#000" stroke-width="2.4"/>
<line x1="393.0" y1="57.5" x2="428.0" y2="57.5" stroke="#f00" stroke-width="2.4"/>
<text transform="translate(431.4,37.8) scale(0.985,1.07)" font-family="'Liberation Serif', serif" font-size="15.3">CsGeBr<tspan font-size="11" dx="0.7" dy="5.6">3</tspan></text>
<text transform="translate(431.4,62.5) scale(0.985,1.07)" font-family="'Liberation Serif', serif" font-size="15.3">CsSnBr<tspan font-size="11" dx="0.7" dy="5.6">3</tspan></text>
<line x1="72.6" y1="285.6" x2="107.6" y2="285.6" stroke="#000" stroke-width="2.4"/>
<line x1="72.6" y1="309.8" x2="107.6" y2="309.8" stroke="#f00" stroke-width="2.4"/>
<text transform="translate(111.0,290.6) scale(0.985,1.07)" font-family="'Liberation Serif', serif" font-size="15.3">CsGeBr<tspan font-size="11" dx="0.7" dy="5.6">3</tspan></text>
<text transform="translate(111.0,314.7) scale(0.985,1.07)" font-family="'Liberation Serif', serif" font-size="15.3">CsSnBr<tspan font-size="11" dx="0.7" dy="5.6">3</tspan></text>
<line x1="386.2" y1="285.6" x2="421.2" y2="285.6" stroke="#000" stroke-width="2.4"/>
<line x1="386.2" y1="310.1" x2="421.2" y2="310.1" stroke="#f00" stroke-width="2.4"/>
<text transform="translate(424.7,290.6) scale(0.985,1.07)" font-family="'Liberation Serif', serif" font-size="15.3">CsGeBr<tspan font-size="11" dx="0.7" dy="5.6">3</tspan></text>
<text transform="translate(424.7,314.8) scale(0.985,1.07)" font-family="'Liberation Serif', serif" font-size="15.3">CsSnBr<tspan font-size="11" dx="0.7" dy="5.6">3</tspan></text>
<text x="77.2" y="13.2" font-family="'Liberation Serif', serif" font-weight="bold" font-size="17.5">(a)</text>
<text x="390.2" y="13.4" font-family="'Liberation Serif', serif" font-weight="bold" font-size="17.5">(c)</text>
<text x="72.0" y="266.5" font-family="'Liberation Serif', serif" font-weight="bold" font-size="17.5">(b)</text>
<text x="384.0" y="267.0" font-family="'Liberation Serif', serif" font-weight="bold" font-size="17.5">(d)</text>
<text transform="translate(157.0,224.5) scale(1.18,0.96)" font-family="'Liberation Serif', serif" font-size="23">μ</text>
<text transform="translate(175.4,224.5) scale(1,1.07)" font-family="'Liberation Serif', serif" font-weight="normal" font-size="17.5">(eV)</text>
<text transform="translate(472.5,226.3) scale(1.18,0.96)" font-family="'Liberation Serif', serif" font-size="23">μ</text>
<text transform="translate(490.5,226.3) scale(1,1.1)" font-family="'Liberation Serif', serif" font-weight="normal" font-size="17">(eV)</text>
<text transform="translate(155.0,477.0) scale(1.18,0.96)" font-family="'Liberation Serif', serif" font-size="23">μ</text>
<text transform="translate(173.3,476.2) scale(1,0.92)" font-family="'Liberation Serif', serif" font-weight="bold" font-size="17.5">(eV)</text>
<text transform="translate(465.2,481.5) scale(1.18,0.96)" font-family="'Liberation Serif', serif" font-size="23">μ</text>
<text transform="translate(483.8,481.5) scale(1,1.0)" font-family="'Liberation Sans', sans-serif" font-weight="normal" font-size="17.5">(eV)</text>
<text transform="translate(13.4,103.2) rotate(-90)" text-anchor="middle" font-family="'Liberation Serif', serif" font-weight="bold" font-size="17.7">Electrical conductivity</text>
<text transform="translate(43.0,101.8) rotate(-90)" text-anchor="middle" font-family="'Liberation Serif', serif" font-weight="bold" font-size="17.5">(<tspan font-weight="normal" dx="-1.8">×</tspan><tspan dx="-1.8" font-weight="normal">10</tspan><tspan font-size="12.8" dy="-10">20</tspan><tspan dy="10"> /Ωms)</tspan></text>
<text transform="translate(313.0,101.3) rotate(-90)" text-anchor="middle" font-family="'Liberation Serif', serif" font-weight="normal" font-size="17.75">Seebeck coefficient</text>
<text transform="translate(341.5,99.4) rotate(-90)" text-anchor="middle" font-family="'Liberation Serif', serif" font-weight="normal" font-size="17.5">(μK/V)</text>
<g transform="translate(35.4,0) rotate(-90)"><text transform="translate(-418.6,0.8) scale(0.9,1)" font-family="'Liberation Serif', serif" font-weight="bold" font-size="30">κ</text><text x="-397.3" y="0" font-family="'Liberation Serif', serif" font-weight="bold" font-size="17.5">(<tspan font-weight="normal">×10</tspan><tspan font-size="12.8" dy="-10">14</tspan><tspan dy="10"> W/mKs)</tspan></text></g>
<text transform="translate(319.0,356.7) rotate(-90) scale(1,0.92)" text-anchor="middle" font-family="'Liberation Serif', serif" font-weight="bold" font-size="17.8">Power Factor</text>
<text transform="translate(343.5,354.6) rotate(-90) scale(1.03,1)" text-anchor="middle" font-family="'Liberation Serif', serif" font-weight="bold" font-size="17.5">(<tspan font-weight="normal">×</tspan>10<tspan font-size="9.5" dy="-10">10</tspan><tspan dy="10"> W/mK</tspan><tspan font-size="9.5" dy="-10">2</tspan><tspan dy="10">s)</tspan></text>
</svg>
</body></html>
